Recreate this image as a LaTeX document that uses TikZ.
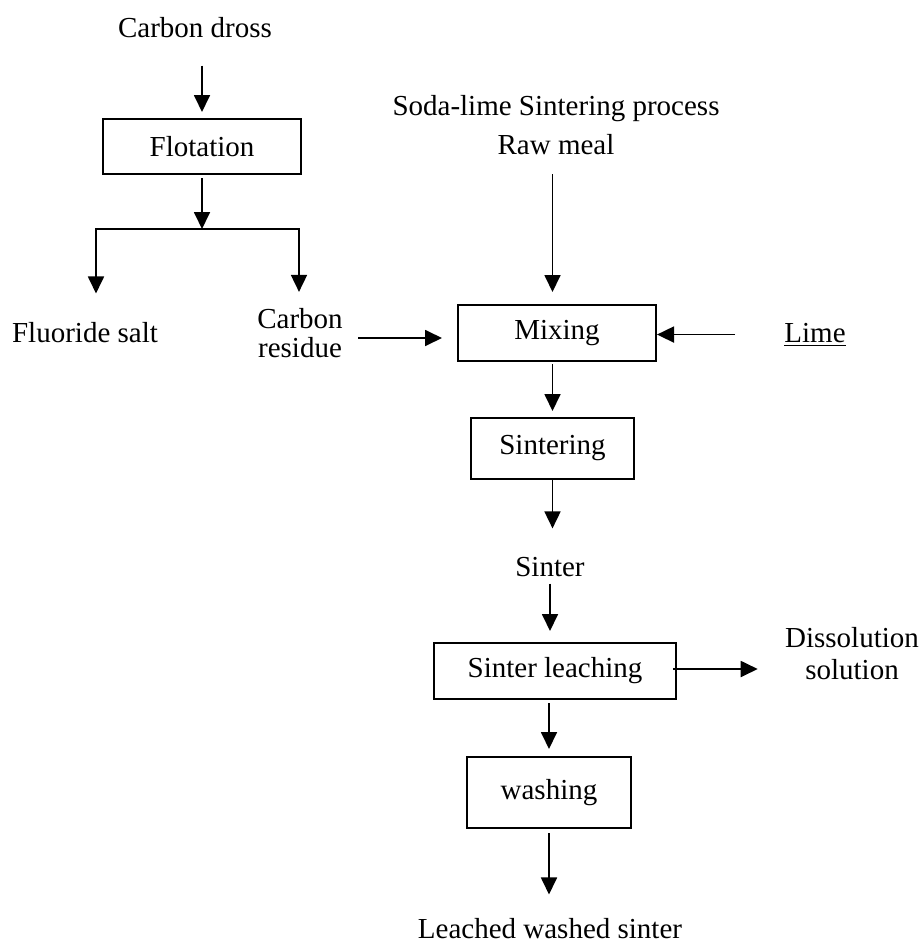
\documentclass[tikz,border=0pt]{standalone}
\usepackage{fontspec}
\setmainfont{Liberation Serif}
\usetikzlibrary{arrows.meta}

\begin{document}
\begin{tikzpicture}[x=0.5pt, y=-0.5pt,
	font=\fontsize{14.5}{14.5}\selectfont,
	box/.style={draw, line width=1pt, inner sep=0pt},
	lbl/.style={inner sep=0pt, align=center},
	flow/.style={-{Triangle[length=8.5pt,width=8pt]}, line width=0.9pt}]
	
	\useasboundingbox (0,0) rectangle (920,942);
	
	\node[lbl, anchor=base] (dross) at (195,38) {Carbon dross}; %Aufgabe links
	\node[box, minimum width=99pt, minimum height=27.5pt] (flot) at (202,146.5) {Flotation};
	\coordinate (split) at (202,229);
	\coordinate (splitL) at (96,229);
	\coordinate (splitR) at (299,229);
	\node[lbl, anchor=base] (fluor) at (85,342) {Fluoride salt};
	\node[lbl] (resid) at (300,333) {Carbon\\residue};
	
	\node[lbl, font=\fontsize{14.5}{19.5}\selectfont] (soda) at (556,125) {Soda-lime Sintering process\\Raw meal}; %Hauptstrang
	\node[box, minimum width=99pt, minimum height=28pt] (mix) at (557,333) {Mixing};
	\node[lbl, anchor=base] (lime) at (815,342) {\underline{Lime}};
	\node[box, minimum width=81.5pt, minimum height=30.5pt] (sint) at (552.5,448.5) {Sintering};
	\node[lbl, anchor=base] (sinter) at (550,576) {Sinter};
	\node[box, minimum width=121pt, minimum height=28pt] (leach) at (555,671) {Sinter leaching};
	\node[lbl, font=\fontsize{14.5}{16}\selectfont] (dissol) at (852,654) {Dissolution\\solution};
	\node[box, minimum width=82pt, minimum height=35.5pt] (wash) at (549,792.5) {washing};
	\node[lbl, anchor=base] (leached) at (550,938) {Leached washed sinter};
	
	\draw[flow, shorten <=13.5pt, shorten >=3pt] (dross.south -| flot.north) -- (flot.north);
	\draw[flow, shorten <=1.5pt] (flot.south) -- (split);
	\draw[line width=0.9pt, line cap=rect] (splitL) -- (splitR); %Verzweigung
	\draw[flow, shorten >=14pt] (splitL) -- (splitL |- fluor.north);
	\draw[flow, shorten >=8pt] (splitR) -- (splitR |- resid.north);
	\draw[flow, shorten <=7.5pt, shorten >=7.5pt] ([yshift=-2.5pt]resid.east) -- ([yshift=-2.5pt]mix.west);
	
	\draw[flow, shorten <=9.5pt, shorten >=6pt] (soda.south -| sint.north) -- (mix.north -| sint.north);
	\draw[flow, shorten <=24.5pt] (lime.west) -- (lime.west -| mix.east);
	\draw[flow, shorten <=1pt, shorten >=3pt] (mix.south -| sint.north) -- (sint.north);
	\draw[flow, shorten >=14pt] (sint.south) -- (sint.south |- sinter.north);
	\draw[flow, shorten <=3.5pt, shorten >=5.5pt] (sinter.south) -- (sinter.south |- leach.north);
	\draw[flow, shorten >=13.5pt] ([xshift=-2pt, yshift=1pt]leach.east) -- ([yshift=1pt]leach.east -| dissol.west);
	\draw[flow, shorten <=1.5pt, shorten >=3.5pt] (leach.south -| wash.north) -- (wash.north);
	\draw[flow, shorten <=2pt, shorten >=11.5pt] (wash.south) -- (wash.south |- leached.north);
	
\end{tikzpicture}
\end{document}
